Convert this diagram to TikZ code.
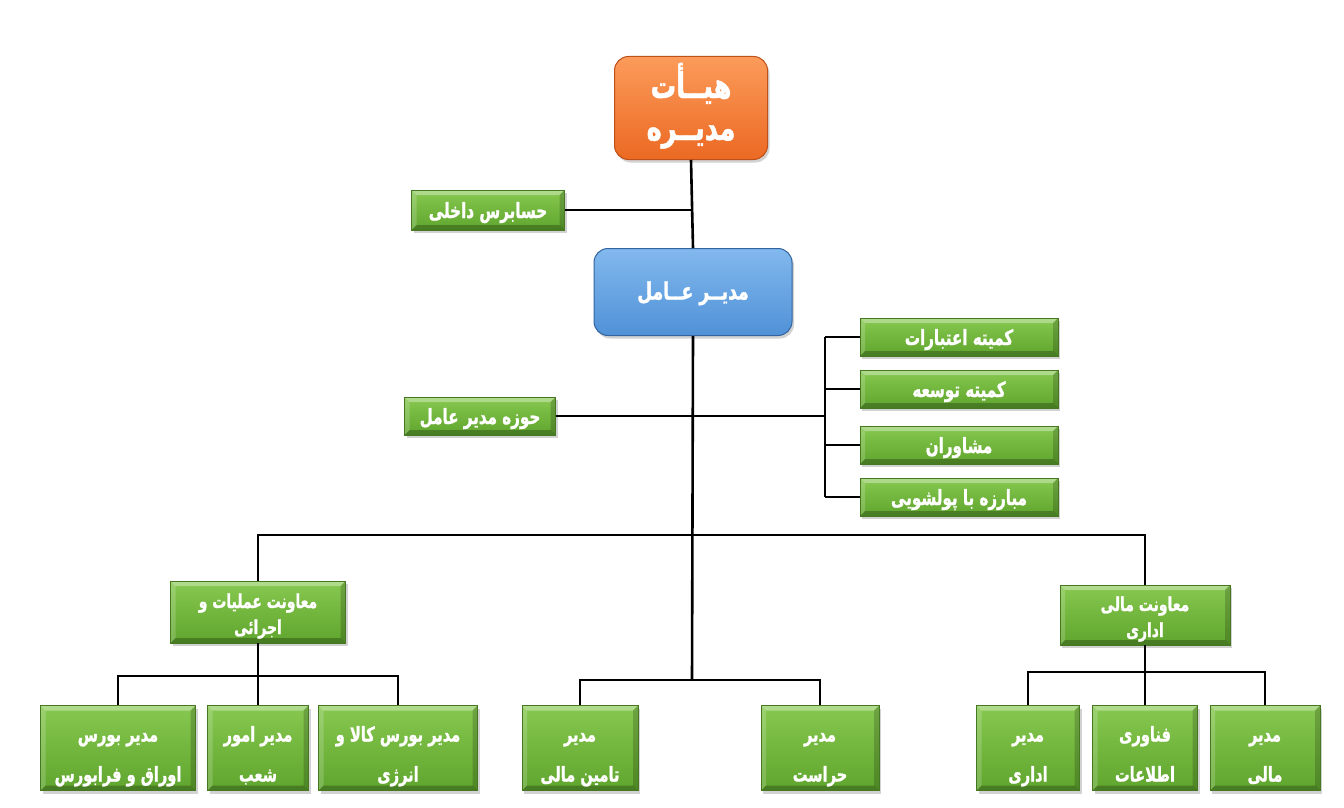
\documentclass[tikz,border=0pt]{standalone}
\usepackage{fontspec}
\TeXXeTstate=1
\newfontfamily\arabicfont[Script=Arabic, FakeStretch=0.72, FakeBold=1.2]{DejaVu Sans}
\usetikzlibrary{shadows}
\newcommand{\ar}[1]{{\arabicfont\bfseries\beginR #1\endR}}
\definecolor{gtop}{RGB}{135,200,80}
\definecolor{gbot}{RGB}{95,165,45}
\definecolor{gline}{RGB}{70,120,35}
\definecolor{otop}{RGB}{252,155,90}
\definecolor{obot}{RGB}{235,105,35}
\definecolor{oline}{RGB}{190,80,25}
\definecolor{btop}{RGB}{130,185,238}
\definecolor{bbot}{RGB}{80,145,215}
\definecolor{bline}{RGB}{50,100,160}
\tikzset{
  base/.style={align=center, inner sep=0pt, text=white,
    drop shadow={opacity=0.35, shadow xshift=2pt, shadow yshift=-3pt}},
  gbox/.style={base, draw=gline, line width=0.8pt, top color=gtop, bottom color=gbot,
    path picture={
      \coordinate (pnw) at (path picture bounding box.north west);
      \coordinate (pne) at (path picture bounding box.north east);
      \coordinate (psw) at (path picture bounding box.south west);
      \coordinate (pse) at (path picture bounding box.south east);
      \fill[white, opacity=0.35] (pnw) -- (pne) -- ([shift={(-5pt,-5pt)}]pne) -- ([shift={(5pt,-5pt)}]pnw) -- cycle;
      \fill[white, opacity=0.18] (pnw) -- ([shift={(5pt,-5pt)}]pnw) -- ([shift={(5pt,5pt)}]psw) -- (psw) -- cycle;
      \fill[black, opacity=0.18] (pne) -- (pse) -- ([shift={(-5pt,5pt)}]pse) -- ([shift={(-5pt,-5pt)}]pne) -- cycle;
      \fill[black, opacity=0.25] (psw) -- (pse) -- ([shift={(-5pt,5pt)}]pse) -- ([shift={(5pt,5pt)}]psw) -- cycle;
    }},
  obox/.style={base, draw=oline, line width=1pt, top color=otop, bottom color=obot, rounded corners=14pt},
  bbox/.style={base, draw=bline, line width=1pt, top color=btop, bottom color=bbot, rounded corners=14pt},
  conn/.style={line width=2.6pt, black},
  fs/.style={font=\fontsize{21}{26}\selectfont, text height=20pt, text depth=4pt},
  fm/.style={font=\fontsize{19.4}{26}\selectfont, text height=48pt, text depth=4pt},
  fb/.style={font=\fontsize{20.3}{40}\selectfont, text height=72pt, text depth=5pt},
}
\begin{document}
\begin{tikzpicture}[x=1pt,y=-1pt]
\useasboundingbox[fill=white] (0,0) rectangle (1344,808);
\coordinate (bus) at (825,416);
\coordinate (jd) at (692,535);
\coordinate (jm) at (692,680);
\coordinate (jl) at (258,676);
\coordinate (jr) at (1145,672);
% top
\node[obox, minimum width=153pt, minimum height=103pt, font=\fontsize{35.5}{42}\selectfont, text height=72pt, text depth=8pt] (board) at (691,108) {\ar{هیــأت}\\\ar{مدیــره}};
\node[bbox, minimum width=198pt, minimum height=87pt, font=\fontsize{23.9}{28}\selectfont, text height=20pt, text depth=5pt] (ceo) at (693,292) {\ar{مدیــر عــامل}};
\node[gbox, fs, minimum width=153pt, minimum height=40pt] (aud) at (488,210) {\ar{حسابرس داخلی}};
\node[gbox, fs, minimum width=151pt, minimum height=38pt] (hoze) at (480,416) {\ar{حوزه مدیر عامل}};
% committees
\node[gbox, fs, minimum width=198pt, minimum height=38pt] (c1) at (959,337) {\ar{کمیته اعتبارات}};
\node[gbox, fs, minimum width=198pt, minimum height=38pt] (c2) at (959,389) {\ar{کمیته توسعه}};
\node[gbox, fs, minimum width=198pt, minimum height=38pt] (c3) at (959,445) {\ar{مشاوران}};
\node[gbox, fs, minimum width=198pt, minimum height=38pt] (c4) at (959,497) {\ar{مبارزه با پولشویی}};
% deputies
\node[gbox, fm, minimum width=175pt, minimum height=62pt] (vp1) at (258,612) {\ar{معاونت عملیات و}\\\ar{اجرائی}};
\node[gbox, fm, minimum width=170pt, minimum height=60pt] (vp2) at (1145,615) {\ar{معاونت مالی}\\\ar{اداری}};
% bottom row
\node[gbox, fb, minimum width=155pt, minimum height=85pt] (b1) at (118,748) {\ar{مدیر بورس}\\\ar{اوراق و فرابورس}};
\node[gbox, fb, minimum width=101pt, minimum height=85pt] (b2) at (258,748) {\ar{مدیر امور}\\\ar{شعب}};
\node[gbox, fb, minimum width=159pt, minimum height=85pt] (b3) at (398,748) {\ar{مدیر بورس کالا و}\\\ar{انرژی}};
\node[gbox, fb, minimum width=116pt, minimum height=85pt] (b4) at (580,748) {\ar{مدیر}\\\ar{تامین مالی}};
\node[gbox, fb, minimum width=118pt, minimum height=85pt] (b5) at (820,748) {\ar{مدیر}\\\ar{حراست}};
\node[gbox, fb, minimum width=103pt, minimum height=85pt] (b6) at (1028,748) {\ar{مدیر}\\\ar{اداری}};
\node[gbox, fb, minimum width=105pt, minimum height=85pt] (b7) at (1145,748) {\ar{فناوری}\\\ar{اطلاعات}};
\node[gbox, fb, minimum width=110pt, minimum height=85pt] (b8) at (1265,748) {\ar{مدیر}\\\ar{مالی}};
% connectors
\draw[conn] (board.south) -- (ceo.north);
\draw[conn] (aud.east) -- (aud.east -| board.south);
\draw[conn] (ceo.south) -- (jm);
\draw[conn] (hoze.east) -- (bus);
\draw[conn] (bus |- c1.west) -- (bus |- c4.west);
\foreach \c in {c1,c2,c3,c4} \draw[conn] (\c.west) -- (\c.west -| bus);
\draw[conn] (vp1.north) -- (vp1.north |- jd) -- (vp2.north |- jd) -- (vp2.north);
\draw[conn] (vp1.south) -- (b2.north);
\draw[conn] (b1.north) -- (b1.north |- jl) -- (b3.north |- jl) -- (b3.north);
\draw[conn] (b4.north) -- (b4.north |- jm) -- (b5.north |- jm) -- (b5.north);
\draw[conn] (vp2.south) -- (b7.north);
\draw[conn] (b6.north) -- (b6.north |- jr) -- (b8.north |- jr) -- (b8.north);
\end{tikzpicture}
\end{document}
